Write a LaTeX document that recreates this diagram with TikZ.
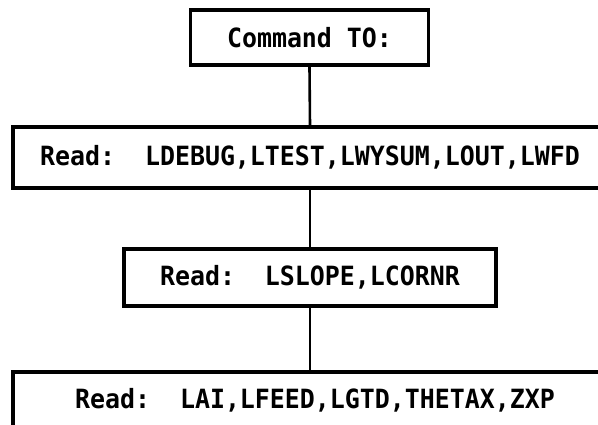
\documentclass[tikz,border=0pt]{standalone}
\usepackage{fontspec}
\newfontfamily\monof[FakeStretch=0.94]{DejaVu Sans Mono}
\begin{document}
\begin{tikzpicture}[x=1pt,y=1pt,
  box/.style={draw=black, line width=3.4pt, inner sep=0pt, anchor=center,
    font=\monof\fontsize{26.5}{30}\selectfont\bfseries},
  conn/.style={draw=black, line width=2.6pt}]
\useasboundingbox[fill=white] (0,0) rectangle (598,425);
\node[box, minimum width=238pt, minimum height=55pt] (cmd) at (309.5,387.5) {Command TO:};
\node[box, minimum width=594pt, minimum height=61pt] (r1) at (310,267.5) {Read:\ \ LDEBUG,LTEST,LWYSUM,LOUT,LWFD};
\node[box, minimum width=372pt, minimum height=57pt] (r2) at (310,147.5) {Read:\ \ LSLOPE,LCORNR};
\node[box, minimum width=594pt, minimum height=56pt] (r3) at (310,25) {\hspace*{10pt}Read:\ \ LAI,LFEED,LGTD,THETAX,ZXP};
\draw[conn] (cmd.south) -- (r1.north);
\draw[conn] (r1.south) -- (r2.north);
\draw[conn] (r2.south) -- (r3.north);
\end{tikzpicture}
\end{document}
